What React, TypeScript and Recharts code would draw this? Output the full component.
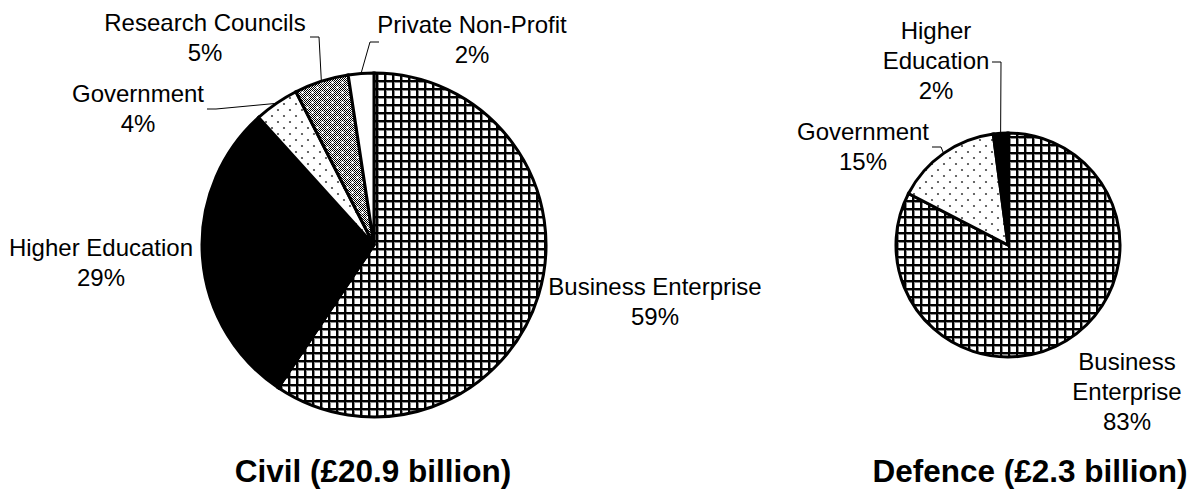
import React from 'react';
import { PieChart, Pie, Cell } from 'recharts';

// ---------- data ----------
const civilCategories = ['Business Enterprise', 'Higher Education', 'Government', 'Research Councils', 'Private Non-Profit'];
const civilValues = [59.4, 28.9, 4.2, 5.1, 2.4];
const civilLabelLines = [['Business Enterprise'], ['Higher Education'], ['Government'], ['Research Councils'], ['Private Non-Profit']];
const civilTitle = 'Civil (£20.9 billion)';

const defenceCategories = ['Business Enterprise', 'Government', 'Higher Education'];
const defenceValues = [82.6, 15.3, 2.1];
const defenceLabelLines = [['Business', 'Enterprise'], ['Government'], ['Higher', 'Education']];
const defenceTitle = 'Defence (£2.3 billion)';

// ---------- styles / layout ----------
const FONT = '"Liberation Sans", Arial, Helvetica, sans-serif';
const fillFor: Record<string, string> = {
  'Business Enterprise': 'url(#gridPat)',
  'Higher Education': '#000000',
  'Government': 'url(#dotPat)',
  'Research Councils': 'url(#rcPat)',
  'Private Non-Profit': '#ffffff',
};

type LabelLayout = { dx: number; dy: number; lead?: [number, number] };

const civilPie = { cx: 374, cy: 245, r: 172 };
const civilLabelLayout: LabelLayout[] = [
  { dx: 281, dy: 50 },
  { dx: -273, dy: 11 },
  { dx: -236, dy: -143, lead: [-167, -136] },
  { dx: -169, dy: -214, lead: [-64, -208] },
  { dx: 98, dy: -212, lead: [5, -203] },
];

const defencePie = { cx: 1008, cy: 245, r: 112 };
const defenceLabelLayout: LabelLayout[] = [
  { dx: 119, dy: 125 },
  { dx: -145, dy: -105, lead: [-76, -98] },
  { dx: -72, dy: -206, lead: [-16, -183] },
];

const civilData = civilCategories.map((name, i) => ({ name, value: civilValues[i] }));
const defenceData = defenceCategories.map((name, i) => ({ name, value: defenceValues[i] }));

const RAD = Math.PI / 180;

function makeLabel(layout: LabelLayout[], lines: string[][]) {
  return (props: any) => {
    const { cx, cy, midAngle, outerRadius, index, value } = props;
    const l = layout[index];
    const tx = cx + l.dx;
    const ty = cy + l.dy;
    const allLines = [...lines[index], `${Math.round(value)}%`];
    let leader = null;
    if (l.lead) {
      const ex = cx + outerRadius * Math.cos(-midAngle * RAD);
      const ey = cy + outerRadius * Math.sin(-midAngle * RAD);
      const sx = cx + l.lead[0];
      const sy = cy + l.lead[1];
      const dir = ex > sx ? 1 : -1;
      leader = (
        <polyline
          points={`${sx},${sy} ${sx + dir * 9},${sy} ${ex},${ey}`}
          fill="none"
          stroke="#000"
          strokeWidth={1}
        />
      );
    }
    return (
      <g key={`lbl-${index}`}>
        {leader}
        <text x={tx} y={ty} textAnchor="middle" fontSize={24} fontFamily={FONT} fill="#000">
          {allLines.map((t, k) => (
            <tspan key={k} x={tx} dy={k === 0 ? 0 : 30}>
              {t}
            </tspan>
          ))}
        </text>
      </g>
    );
  };
}

export default function App() {
  return (
    <div style={{ position: 'absolute', left: 0, top: 0, width: 1193, height: 492, background: '#fff' }}>
      <PieChart width={1193} height={492} margin={{ top: 0, right: 0, bottom: 0, left: 0 }}>
        <defs>
          <pattern id="gridPat" patternUnits="userSpaceOnUse" width={8} height={8}>
            <rect x={0} y={0} width={8} height={8} fill="#fff" />
            <rect x={0} y={0} width={3} height={8} fill="#8a8a8a" />
            <rect x={0} y={0} width={8} height={3} fill="#8a8a8a" />
            <rect x={0} y={0} width={2} height={8} fill="#000" />
            <rect x={0} y={0} width={8} height={2} fill="#000" />
          </pattern>
          <pattern id="dotPat" patternUnits="userSpaceOnUse" width={12} height={12}>
            <rect x={0} y={0} width={12} height={12} fill="#fff" />
            <circle cx={2} cy={2} r={1.1} fill="#444" />
            <circle cx={8} cy={8} r={1.1} fill="#444" />
          </pattern>
          <pattern id="checkPat" patternUnits="userSpaceOnUse" width={2} height={2}>
            <rect x={0} y={0} width={2} height={2} fill="#fff" />
            <rect x={0} y={0} width={1} height={1} fill="#000" />
            <rect x={1} y={1} width={1} height={1} fill="#000" />
          </pattern>
          <pattern id="rcPat" patternUnits="userSpaceOnUse" width={10} height={10}>
            <rect x={0} y={0} width={10} height={10} fill="url(#checkPat)" />
            <circle cx={2.5} cy={2.5} r={1.3} fill="#fff" />
            <circle cx={7.5} cy={7.5} r={1.3} fill="#fff" />
          </pattern>
        </defs>
        <Pie
          data={civilData}
          dataKey="value"
          nameKey="name"
          cx={civilPie.cx}
          cy={civilPie.cy}
          outerRadius={civilPie.r}
          startAngle={90}
          endAngle={-270}
          stroke="#000"
          strokeWidth={3}
          isAnimationActive={false}
          labelLine={false}
          label={makeLabel(civilLabelLayout, civilLabelLines)}
        >
          {civilData.map((d, i) => (
            <Cell key={i} fill={fillFor[d.name]} stroke="#000" strokeWidth={3} />
          ))}
        </Pie>
        <Pie
          data={defenceData}
          dataKey="value"
          nameKey="name"
          cx={defencePie.cx}
          cy={defencePie.cy}
          outerRadius={defencePie.r}
          startAngle={90}
          endAngle={-270}
          stroke="#000"
          strokeWidth={3}
          isAnimationActive={false}
          labelLine={false}
          label={makeLabel(defenceLabelLayout, defenceLabelLines)}
        >
          {defenceData.map((d, i) => (
            <Cell key={i} fill={fillFor[d.name]} stroke="#000" strokeWidth={3} />
          ))}
        </Pie>
        <text x={373} y={482} textAnchor="middle" fontSize={31.5} fontWeight="bold" fontFamily={FONT} fill="#000">
          {civilTitle}
        </text>
        <text x={1030} y={482} textAnchor="middle" fontSize={31.5} fontWeight="bold" fontFamily={FONT} fill="#000">
          {defenceTitle}
        </text>
      </PieChart>
    </div>
  );
}
